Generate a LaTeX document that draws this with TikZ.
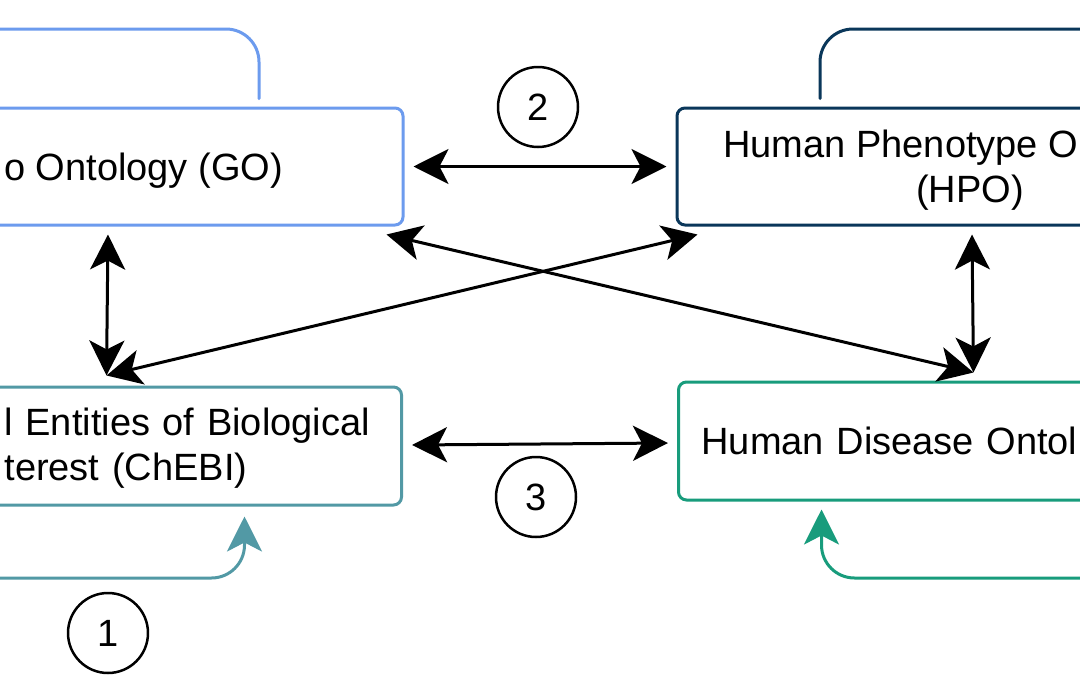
\documentclass[tikz,border=0pt]{standalone}
\usepackage{fontspec}
\setmainfont{Liberation Sans}
\usetikzlibrary{arrows.meta,calc}
\definecolor{goblue}{RGB}{108,155,238}
\definecolor{hponavy}{RGB}{10,55,90}
\definecolor{chebiteal}{RGB}{82,153,165}
\definecolor{hdogreen}{RGB}{24,156,124}
\begin{document}
\begin{tikzpicture}[x=1pt,y=-1pt,line join=round,line cap=round,
		>={Stealth[length=35pt,width=35pt,inset=9pt]}]
			\tikzset{box/.style={draw,line width=3pt,rounded corners=8pt,minimum height=117pt,text height=36pt,text depth=9pt,font=\fontsize{38}{45}\selectfont},
				link/.style={<->,line width=3pt},
				loop line/.style={line width=3pt,rounded corners=33pt},
				num/.style={draw,circle,line width=2.5pt,minimum size=80pt,inner sep=0pt,font=\fontsize{38}{45}\selectfont}}
			\path[fill=white,use as bounding box] (0,0) rectangle (1080,675);
			\clip (0,0) rectangle (1080,675);
			% ontologies
			\node[box,draw=goblue,minimum width=519pt] (go) at (143.5,166.5) {o Ontology (GO)};
			\node[box,draw=hponavy,minimum width=586pt,align=center,text height=80pt] (hpo) at (970,166.5) {Human Phenotype O\hphantom{ntology}\hspace*{16pt}\\(HPO)};
			\node[box,draw=chebiteal,minimum height=118pt,text width=380pt,inner xsep=17pt,align=left,text height=32pt,text depth=54pt,anchor=east] (chebi) at (403,446) {l Entities of Biological\\terest (ChEBI)};
			\node[box,draw=hdogreen,minimum height=118pt,text width=400pt,inner xsep=23pt,align=left,anchor=west] (hdo) at (677,441) {Human Disease Ontol};
			\coordinate (goL) at ([xshift=-35.5pt,yshift=-8pt]go.south);
			\coordinate (goR) at ([xshift=-18pt,yshift=-8pt]go.south east);
			\coordinate (hpoL) at ([xshift=22pt,yshift=-8pt]hpo.south west);
			\coordinate (hpoR) at ([xshift=2pt,yshift=-8pt]hpo.south);
			\coordinate (chebiT) at ([xshift=-88pt,yshift=10pt]chebi.north);
			\coordinate (hdoT) at ([xshift=72pt,yshift=8pt]hdo.north);
			\draw[link] ([xshift=9pt]go.east) -- ([xshift=-9pt]hpo.west);
			\draw[link] ([xshift=9pt,yshift=1pt]chebi.east) -- ([xshift=-9pt,yshift=-2pt]hdo.west);
			\draw[link] (goL) -- (chebiT);
			\draw[link] (hpoR) -- (hdoT);
			\draw[link] (goR) -- (hdoT);
			\draw[link] (chebiT) -- (hpoL);
			% self loops
			\coordinate (goT) at ([xshift=115.5pt,yshift=8pt]go.north);
			\coordinate (goLoop) at (-40,29);
			\coordinate (hpoT) at ([xshift=-150pt,yshift=8pt]hpo.north);
			\coordinate (hpoLoop) at (1120,29);
			\coordinate (chebiB) at ([xshift=50pt,yshift=-10pt]chebi.south);
			\coordinate (chebiLoop) at (-40,578);
			\coordinate (hdoB) at ([xshift=-80pt,yshift=-8pt]hdo.south);
			\coordinate (hdoLoop) at (1120,578);
			\draw[loop line,goblue] (goT) |- (goLoop);
			\draw[loop line,hponavy] (hpoT) |- (hpoLoop);
			\draw[loop line,->,chebiteal] (chebiLoop) -| (chebiB);
			\draw[loop line,->,hdogreen] (hdoLoop) -| (hdoB);
			\node[num] (n2) at (538,107) {2};
			\node[num] (n3) at (536,497) {3};
			\node[num] (n1) at (108,633) {1};
		\end{tikzpicture}
\end{document}
